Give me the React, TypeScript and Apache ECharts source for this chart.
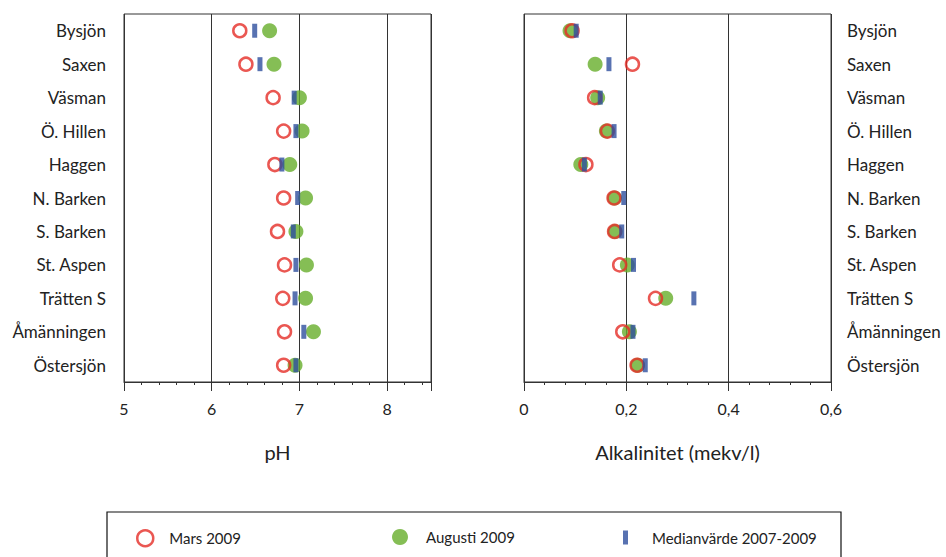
import React, { useEffect, useRef } from "react";
import * as echarts from "echarts";

const lakes = ["Bysjön", "Saxen", "Väsman", "Ö. Hillen", "Haggen", "N. Barken", "S. Barken", "St. Aspen", "Trätten S", "Åmänningen", "Östersjön"];
const phMars = [6.32, 6.39, 6.70, 6.82, 6.72, 6.82, 6.75, 6.83, 6.81, 6.83, 6.82];
const phAugusti = [6.66, 6.71, 7.00, 7.03, 6.89, 7.07, 6.96, 7.08, 7.07, 7.16, 6.95];
const phMedian = [6.49, 6.55, 6.94, 6.96, 6.80, 6.98, 6.93, 6.96, 6.95, 7.05, 6.96];
const alkMars = [0.094, 0.212, 0.138, 0.163, 0.121, 0.176, 0.177, 0.187, 0.257, 0.193, 0.221];
const alkAugusti = [0.090, 0.139, 0.144, 0.161, 0.111, 0.177, 0.178, 0.202, 0.277, 0.206, 0.222];
const alkMedian = [0.102, 0.166, 0.149, 0.176, 0.118, 0.195, 0.191, 0.214, 0.332, 0.213, 0.237];

const RED = "#e52d27";
const GREEN = "#66ae2b";
const BLUE = "#2e4f9e";
const TXT = "#222";
const FONT = "Lato";

const pair = (vals: number[]) => vals.map((v, i) => [v, lakes[i]]);

export default function App() {
  const ref = useRef<HTMLDivElement>(null);
  useEffect(() => {
    const chart = echarts.init(ref.current!, null, { renderer: "svg" });
    const xCommon = {
      type: "value",
      nameLocation: "middle",
      nameGap: 60,
      nameTextStyle: { fontFamily: FONT, fontSize: 20, color: TXT },
      axisLine: { show: true, onZero: false, lineStyle: { color: "#333", width: 1 } },
      axisTick: { show: true, length: 9, lineStyle: { color: "#333" } },
      minorTick: { show: true, splitNumber: 5, length: 3, lineStyle: { color: "#333" } },
      splitLine: { show: true, lineStyle: { color: "#333", width: 1 } },
      axisLabel: { fontFamily: FONT, fontSize: 16, color: TXT, margin: 18, showMaxLabel: false },
    };
    const yCommon = {
      type: "category",
      data: lakes,
      inverse: true,
      axisLine: { show: false },
      axisTick: { show: false },
      splitLine: { show: false },
    };
    const ringStyle = { color: "rgba(0,0,0,0)", borderColor: RED, borderWidth: 2.5 };
    const mk = (name: string, vals: number[], idx: number, kind: string) => {
      const base: any = {
        name,
        type: "scatter",
        xAxisIndex: idx,
        yAxisIndex: idx,
        data: pair(vals),
        silent: true,
      };
      if (kind === "ring") {
        base.symbol = "circle";
        base.symbolSize = 13;
        base.itemStyle = ringStyle;
        base.z = 3;
      } else if (kind === "dot") {
        base.symbol = "circle";
        base.symbolSize = 15;
        base.itemStyle = { color: GREEN };
        base.z = 2;
      } else {
        base.symbol = "rect";
        base.symbolSize = [5, 14];
        base.itemStyle = { color: BLUE };
        base.z = 4;
      }
      return base;
    };
    const legendCommon = {
      top: 529,
      padding: 0,
      itemWidth: 16,
      itemHeight: 16,
      selectedMode: false,
    };
    const legendText = (pad: number) => ({ fontFamily: FONT, fontSize: 15, color: TXT, padding: [0, 0, 0, pad] });
    chart.setOption({
      animation: false,
      grid: [
        { left: 124, top: 14, width: 307, height: 368, show: true, borderColor: "#333", borderWidth: 1, containLabel: false },
        { left: 524, top: 14, width: 307, height: 368, show: true, borderColor: "#333", borderWidth: 1, containLabel: false },
      ],
      xAxis: [
        { ...xCommon, gridIndex: 0, min: 5, max: 8.5, interval: 1, name: "pH" },
        {
          ...xCommon,
          gridIndex: 1,
          min: 0,
          max: 0.6,
          interval: 0.2,
          name: "Alkalinitet (mekv/l)",
          axisLabel: {
            ...xCommon.axisLabel,
            showMaxLabel: true,
            formatter: (v: number) => (v === 0 ? "0" : (Math.round(v * 10) / 10).toString().replace(".", ",")),
          },
        },
      ],
      yAxis: [
        { ...yCommon, gridIndex: 0, position: "left", axisLabel: { fontFamily: FONT, fontSize: 17, color: TXT, margin: 18 } },
        { ...yCommon, gridIndex: 1, position: "right", axisLabel: { fontFamily: FONT, fontSize: 17, color: TXT, margin: 16 } },
      ],
      legend: [
        {
          ...legendCommon,
          left: 136,
          textStyle: legendText(11),
          data: [{ name: "Mars 2009", icon: "circle", itemStyle: ringStyle }],
        },
        {
          ...legendCommon,
          left: 392,
          textStyle: legendText(13),
          data: [{ name: "Augusti 2009", icon: "circle", itemStyle: { color: GREEN } }],
        },
        {
          ...legendCommon,
          left: 623,
          top: 530,
          itemWidth: 5,
          itemHeight: 14,
          textStyle: legendText(19),
          data: [{ name: "Medianvärde 2007-2009", icon: "rect", itemStyle: { color: BLUE } }],
        },
      ],
      graphic: [
        {
          type: "rect",
          shape: { x: 107, y: 512, width: 734, height: 60 },
          style: { fill: "none", stroke: "#111", lineWidth: 1.2 },
          silent: true,
        },
      ],
      series: [
        mk("Augusti 2009", phAugusti, 0, "dot"),
        mk("Mars 2009", phMars, 0, "ring"),
        mk("Medianvärde 2007-2009", phMedian, 0, "bar"),
        mk("Augusti 2009", alkAugusti, 1, "dot"),
        mk("Mars 2009", alkMars, 1, "ring"),
        mk("Medianvärde 2007-2009", alkMedian, 1, "bar"),
      ],
    });
    return () => chart.dispose();
  }, []);
  return <div ref={ref} style={{ position: "fixed", left: 0, top: 0, width: 946, height: 557, background: "#fff" }} />;
}
